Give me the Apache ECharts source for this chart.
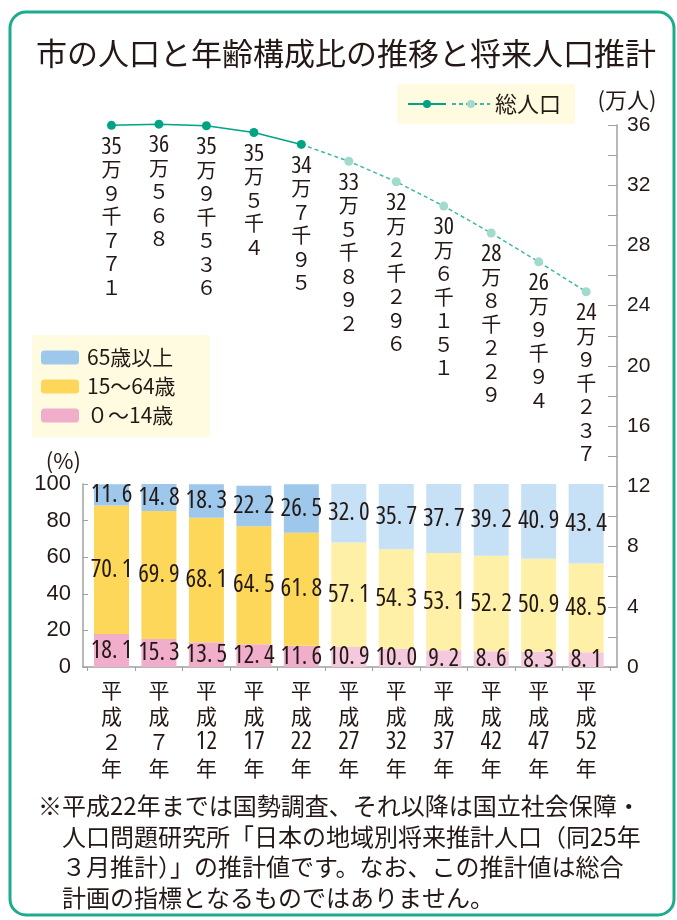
<!DOCTYPE html>
<html>
<head>
<meta charset="utf-8">
<script src="https://cdn.jsdelivr.net/npm/echarts@6/dist/echarts.min.js"></script>
<style>
html,body{margin:0;padding:0;background:#fff;}
#chart{width:677px;height:920px;}
</style>
</head>
<body>
<div id="chart"></div>
<script>
// ---- data ----
const categories = ['平成2年','平成7年','平成12年','平成17年','平成22年','平成27年','平成32年','平成37年','平成42年','平成47年','平成52年'];
const totalPop = [359771, 360568, 359536, 355004, 347095, 335892, 322296, 306151, 288229, 269094, 249237];
const age65 = [11.6, 14.8, 18.3, 22.2, 26.5, 32.0, 35.7, 37.7, 39.2, 40.9, 43.4];
const age15 = [70.1, 69.9, 68.1, 64.5, 61.8, 57.1, 54.3, 53.1, 52.2, 50.9, 48.5];
const age0  = [18.1, 15.3, 13.5, 12.4, 11.6, 10.9, 10.0, 9.2, 8.6, 8.3, 8.1];
const projectedFrom = 5; // index of first projected year
const titleText = '市の人口と年齢構成比の推移と将来人口推計';
const noteLines = [
  '※平成22年までは国勢調査、それ以降は国立社会保障・',
  '　人口問題研究所「日本の地域別将来推計人口（同25年',
  '　３月推計）」の推計値です。なお、この推計値は総合',
  '　計画の指標となるものではありません。'
];
const popTicks = [0, 4, 8, 12, 16, 20, 24, 28, 32, 36];
const pctTicks = [0, 20, 40, 60, 80, 100];

// ---- styles ----
const CJK = '"Noto Sans CJK JP","Noto Sans CJK SC",sans-serif';
const NARROW = '"Liberation Sans Narrow","Open Sans","Noto Sans","DejaVu Sans",sans-serif';
const COND = 'condensed';
const TXT = '#231815';
const C = {
  b65: '#9DC8EB', b65p: '#C6E1F5',
  b15: '#FDD75A', b15p: '#FFF0A8',
  b0:  '#F1AECB', b0p:  '#F4C8DD',
  line: '#00A384', lineP: '#3DB8A4', dotP: '#A2DBCB'
};

const toFW = s => String(s).split('').map(ch => String.fromCharCode(0xFF10 + Number(ch))).join('');

function popLabel(v) {
  const man = Math.floor(v / 10000);
  const rem = v % 10000;
  const sen = Math.floor(rem / 1000);
  const rest = rem % 1000;
  const chars = ['万'];
  if (sen) { chars.push(toFW(sen), '千'); }
  if (rest) { String(rest).split('').forEach(d => chars.push(toFW(d))); }
  return '{n|' + man + '}\n' + chars.map(c => '{c|' + c + '}').join('\n');
}

function catLabel(i) {
  const name = categories[i];
  if (name === undefined) return '';
  const num = name.replace('平成', '').replace('年', '');
  const numPart = num.length === 1 ? '{k|' + toFW(num) + '}' : '{n|' + num + '}';
  return '{k|平}\n{k|成}\n' + numPart + '\n{k|年}';
}

const idx = categories.map((_, i) => i);
const XMIN = -0.6, XMAX = 10.65;

// bar items stored as [value, index] so the stacked dimension is the value one
function barData(arr, light) {
  return arr.map((v, i) => ({ value: [v, i], itemStyle: i >= projectedFrom ? { color: light } : undefined }));
}

const barLabel = {
  show: true, position: 'inside', color: TXT, fontSize: 25, fontFamily: NARROW, fontWeight: COND,
  formatter: p => p.value[0].toFixed(1).replace('.', '.\u2009')
};

const lineLabel = {
  show: true, position: 'bottom', distance: 6, color: TXT,
  formatter: p => popLabel(totalPop[p.value[0]]),
  rich: {
    n: { fontFamily: NARROW, fontWeight: COND, fontSize: 24, lineHeight: 22, color: TXT, align: 'center' },
    c: { fontFamily: CJK, fontSize: 20, lineHeight: 23.5, color: TXT, align: 'center' }
  }
};

const solidData = idx.filter(i => i < projectedFrom).map(i => [i, totalPop[i] / 10000]);
const dashedData = idx.filter(i => i >= projectedFrom - 1).map(i => (
  i < projectedFrom
    ? { value: [i, totalPop[i] / 10000], symbol: 'none', label: { show: false } }
    : { value: [i, totalPop[i] / 10000] }
));

const chart = echarts.init(document.getElementById('chart'), null, { renderer: 'canvas' });

const option = {
  backgroundColor: '#ffffff',
  animation: false,
  title: [
    { text: titleText, left: 31, top: 30, textStyle: { fontFamily: CJK, fontSize: 31, fontWeight: 'normal', color: TXT, lineHeight: 36 } },
    { text: noteLines.join('\n'), left: 33, top: 786, textStyle: { fontFamily: CJK, fontSize: 24, fontWeight: 'normal', color: TXT, lineHeight: 30.5 } }
  ],
  graphic: [
    { type: 'rect', silent: true, z: -1, shape: { x: 10, y: 12, width: 664, height: 903, r: 16 },
      style: { fill: 'none', stroke: '#1CAB8D', lineWidth: 3 } }
  ],
  legend: [
    {
      data: ['総人口（実績）', '総人口'],
      left: 397, top: 84,
      orient: 'horizontal',
      backgroundColor: '#FFFBE0',
      padding: [9, 14, 9, 10],
      itemWidth: 38, itemHeight: 10, itemGap: 4,
      formatter: n => n === '総人口' ? '総人口' : '',
      textStyle: { fontFamily: CJK, fontSize: 22, color: TXT },
      selectedMode: false
    },
    {
      data: ['65歳以上', '15～64歳', '０～14歳'],
      left: 32, top: 335,
      orient: 'vertical',
      backgroundColor: '#FFFBE0',
      padding: [12, 34, 11, 9],
      itemWidth: 38, itemHeight: 14, itemGap: 8,
      itemStyle: { borderWidth: 0 },
      textStyle: { fontFamily: CJK, fontSize: 21, color: TXT, padding: [0, 0, 0, 3] },
      selectedMode: false
    }
  ],
  grid: [
    { left: 83, right: 60, top: 125, height: 542 },
    { left: 83, right: 60, top: 484, height: 183 }
  ],
  xAxis: [
    { type: 'value', gridIndex: 0, min: XMIN, max: XMAX, show: false },
    {
      type: 'value', gridIndex: 1, min: XMIN, max: XMAX,
      splitLine: { show: false },
      axisLine: { show: true, onZero: false, lineStyle: { color: '#A0A0A0', width: 1.5 } },
      axisTick: { show: true, length: 4, customValues: [-0.5, 0.5, 1.5, 2.5, 3.5, 4.5, 5.5, 6.5, 7.5, 8.5, 9.5, 10.5], lineStyle: { color: '#A0A0A0' } },
      axisLabel: {
        show: true, customValues: idx, margin: 10,
        formatter: v => catLabel(Math.round(v)),
        rich: {
          k: { fontFamily: CJK, fontSize: 21, lineHeight: 26, color: TXT },
          n: { fontFamily: NARROW, fontWeight: COND, fontSize: 25, lineHeight: 26, color: TXT }
        }
      }
    }
  ],
  yAxis: [
    {
      type: 'value', gridIndex: 0, position: 'right', min: 0, max: 36, interval: 2,
      name: '(万人)', nameLocation: 'end', nameGap: 14,
      nameTextStyle: { fontFamily: CJK, fontSize: 22, color: TXT, align: 'center', padding: [0, 0, 0, 20] },
      splitLine: { show: false },
      axisLine: { show: true, onZero: false, lineStyle: { color: '#A0A0A0', width: 1.5 } },
      axisTick: { show: true, inside: true, length: 9, lineStyle: { color: '#A0A0A0' } },
      axisLabel: {
        margin: 10, fontFamily: '"Liberation Sans",Arial,sans-serif', fontSize: 21, color: TXT,
        formatter: v => popTicks.indexOf(v) >= 0 ? String(v) : ''
      }
    },
    {
      type: 'value', gridIndex: 1, position: 'left', min: 0, max: 100, interval: 20,
      name: '(%)', nameLocation: 'end', nameGap: 12,
      nameTextStyle: { fontFamily: CJK, fontSize: 22, color: TXT, align: 'right', padding: [0, 2, 0, 0] },
      splitLine: { show: false },
      axisLine: { show: true, onZero: false, lineStyle: { color: '#A0A0A0', width: 1.5 } },
      axisTick: { show: true, inside: true, length: 5, lineStyle: { color: '#A0A0A0' } },
      axisLabel: {
        margin: 12, fontFamily: '"Liberation Sans",Arial,sans-serif', fontSize: 22, color: TXT,
        formatter: v => pctTicks.indexOf(v) >= 0 ? String(v) : ''
      }
    }
  ],
  series: [
    { name: '０～14歳', type: 'bar', xAxisIndex: 1, yAxisIndex: 1, stack: 'age', barWidth: 35,
      encode: { x: 1, y: 0 },
      itemStyle: { color: C.b0 }, label: barLabel, data: barData(age0, C.b0p) },
    { name: '15～64歳', type: 'bar', xAxisIndex: 1, yAxisIndex: 1, stack: 'age', barWidth: 35,
      encode: { x: 1, y: 0 },
      itemStyle: { color: C.b15 }, label: barLabel, data: barData(age15, C.b15p) },
    { name: '65歳以上', type: 'bar', xAxisIndex: 1, yAxisIndex: 1, stack: 'age', barWidth: 35,
      encode: { x: 1, y: 0 },
      itemStyle: { color: C.b65 }, label: barLabel, data: barData(age65, C.b65p) },
    { name: '総人口', type: 'line', xAxisIndex: 0, yAxisIndex: 0, z: 3, clip: false,
      symbol: 'circle', symbolSize: 9,
      lineStyle: { color: C.lineP, width: 1.5, type: [4, 3] },
      itemStyle: { color: C.dotP },
      label: lineLabel, data: dashedData },
    { name: '総人口（実績）', type: 'line', xAxisIndex: 0, yAxisIndex: 0, z: 4, clip: false,
      symbol: 'circle', symbolSize: 9,
      lineStyle: { color: C.line, width: 1.5 },
      itemStyle: { color: C.line },
      label: lineLabel, data: solidData }
  ]
};
chart.setOption(option);
</script>
</body>
</html>
